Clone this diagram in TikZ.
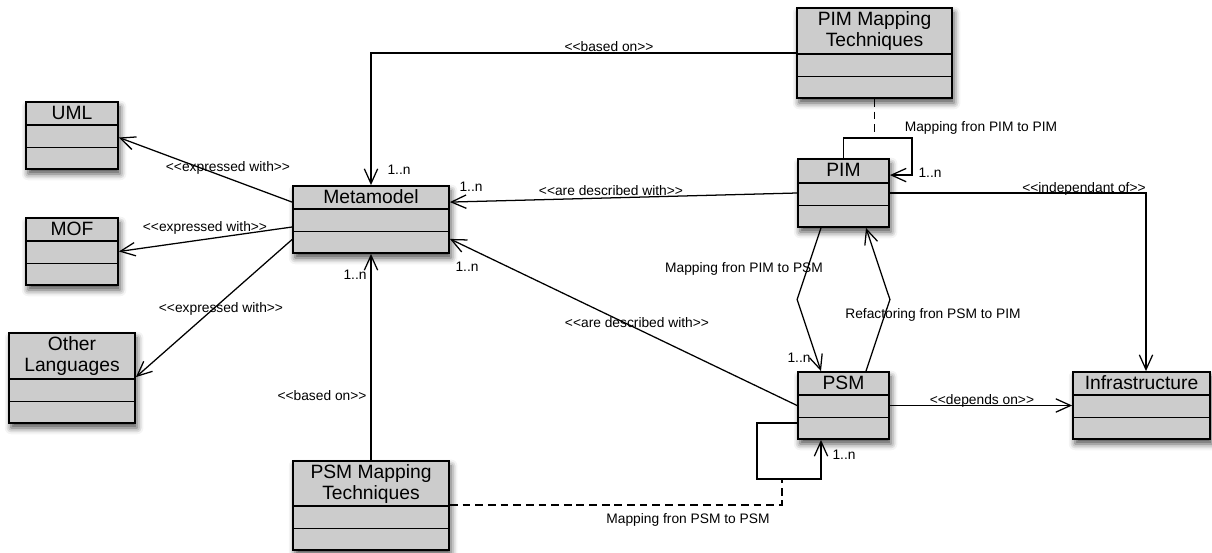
\documentclass[tikz,border=0pt]{standalone}
\usepackage{fontspec}
\newfontfamily\umlfont{Liberation Sans}
\usepackage{tikz}
\usetikzlibrary{calc,arrows.meta,fit,shadows.blur}
\definecolor{boxgray}{HTML}{CCCCCC}
\tikzset{
  umlbox/.style={draw=black,line width=1.3pt,fill=boxgray,inner sep=0pt,
    blur shadow={shadow xshift=1.5pt,shadow yshift=-3.5pt,shadow blur radius=4.5pt,shadow opacity=70}},
  boxtitle/.style={font=\umlfont\fontsize{13.7}{15.3}\selectfont,inner sep=0pt,align=center},
  lbl/.style={font=\umlfont\fontsize{9.8}{11}\selectfont,inner sep=0pt,text depth=0pt},
  assoc/.style={line width=0.9pt,-{Straight Barb[length=10.5pt,width=9.5pt,line width=0.9pt]}},
  dashlink/.style={line width=0.9pt,dash pattern=on 5.5pt off 3.5pt},
}

\begin{document}
\begin{tikzpicture}[x=0.025cm,y=-0.025cm]
\useasboundingbox (0,0) rectangle (1212,553);
\node[umlbox,fit={(26,102) (118,169)}] (uml) {};
\node[umlbox,fit={(26,218) (118,285)}] (mof) {};
\node[umlbox,fit={(9,333) (135,423)}] (other) {};
\node[umlbox,fit={(293,186) (449,253)}] (meta) {};
\node[umlbox,fit={(293,461) (449,550)}] (psmmt) {};
\node[umlbox,fit={(797,8) (952,98)}] (pimmt) {};
\node[umlbox,fit={(798,159) (889,227)}] (pim) {};
\node[umlbox,fit={(798,372) (889,439)}] (psm) {};
\node[umlbox,fit={(1073,372) (1210,439)}] (infra) {};
\foreach \b in {uml,mof,other,meta,psmmt,pimmt,pim,psm,infra}
  \foreach \d in {22.5,45}
    \draw[line width=1.3pt] ($(\b.south west)+(0,-\d)$) -- ($(\b.south east)+(0,-\d)$);
\node[boxtitle,anchor=base] (uml-t) at ($(uml.north)+(0,18)$) {UML};
\node[boxtitle,anchor=base] (mof-t) at ($(mof.north)+(0,18)$) {MOF};
\node[boxtitle] (other-t) at ($(other.north)+(0,24)$) {Other\\Languages};
\node[boxtitle,anchor=base] (meta-t) at ($(meta.north)+(0,18)$) {Metamodel};
\node[boxtitle] (psmmt-t) at ($(psmmt.north)+(0,24)$) {PSM Mapping\\Techniques};
\node[boxtitle] (pimmt-t) at ($(pimmt.north)+(0,24)$) {PIM Mapping\\Techniques};
\node[boxtitle,anchor=base] (pim-t) at ($(pim.north)+(0,18)$) {PIM};
\node[boxtitle,anchor=base] (psm-t) at ($(psm.north)+(0,18)$) {PSM};
\node[boxtitle,anchor=base] (infra-t) at ($(infra.north)+(0,18)$) {Infrastructure};

\draw[assoc] (pimmt.west) -| (meta.north);
\draw[assoc] (pim.west) -- ($(meta.north east)+(0,17)$);
\draw[assoc] (psm.west) -- ($(meta.south east)+(0,-15)$);
\draw[assoc] (psmmt.north) -- (meta.south);
\draw[assoc] ($(meta.north west)+(0,17)$) -- ($(uml.east)+(0,2)$);
\draw[assoc] ($(meta.west)+(0,7.5)$) -- (mof.east);
\draw[assoc] ($(meta.west)+(0,20)$) -- ($(other.north east)+(0,45)$);
\coordinate (pimloop) at ($(pim.north east)+(22,-20)$);
\draw[assoc] (pim.north) |- (pimloop) |- ($(pim.north east)+(0,17)$);
\draw[dashlink] (pimmt.south) -- (pimmt.south |- pimloop);
\draw[assoc] (pim.east) -| ($(infra.north)+(4.5,0)$);
\draw[assoc] ($(pim.south)+(-22.5,0)$) -- ($(pim.south west)!.5!(psm.north west)$) -- ($(psm.north)+(-22.5,0)$);
\draw[assoc] ($(psm.north)+(22.5,0)$) -- ($(pim.south east)!.5!(psm.north east)$) -- ($(pim.south)+(22.5,0)$);
\draw[assoc] (psm.east) -- (psm.east -| infra.west);
\coordinate (psmloop) at ($(psm.south west)+(-40,39)$);
\draw[assoc] ($(psm.south west)+(0,-17)$) -| (psmloop) -| ($(psm.south)+(-22.5,0)$);
\draw[dashlink] ($(psmmt.north east)+(0,45)$) -| ($(psmloop)+(25,0)$);

\node[lbl] (l-based1) at (609,47) {<<based on>>};
\node[lbl] (m-meta1) at (399,170) {1..n};
\node[lbl] (l-descr1) at (611,191) {<<are described with>>};
\node[lbl] (m-meta2) at (471,187) {1..n};
\node[lbl] (l-descr2) at (637,323) {<<are described with>>};
\node[lbl] (m-meta3) at (467,267) {1..n};
\node[lbl] (l-based2) at (322,396) {<<based on>>};
\node[lbl] (m-meta4) at (355,275) {1..n};
\node[lbl] (l-expr1) at (228,167) {<<expressed with>>};
\node[lbl] (l-expr2) at (205,227) {<<expressed with>>};
\node[lbl] (l-expr3) at (221,308) {<<expressed with>>};
\node[lbl] (l-pimpim) at (981,127) {Mapping fron PIM to PIM};
\node[lbl] (m-pim) at (930,173) {1..n};
\node[lbl] (l-indep) at (1084,188) {<<independant of>>};
\node[lbl] (l-pimpsm) at (744,268) {Mapping fron PIM to PSM};
\node[lbl] (m-psm1) at (799,358) {1..n};
\node[lbl] (l-refac) at (933,314) {Refactoring fron PSM to PIM};
\node[lbl] (l-dep) at (982,400) {<<depends on>>};
\node[lbl] (m-psm2) at (844,455) {1..n};
\node[lbl] (l-psmpsm) at (688,519) {Mapping fron PSM to PSM};
\end{tikzpicture}
\end{document}
